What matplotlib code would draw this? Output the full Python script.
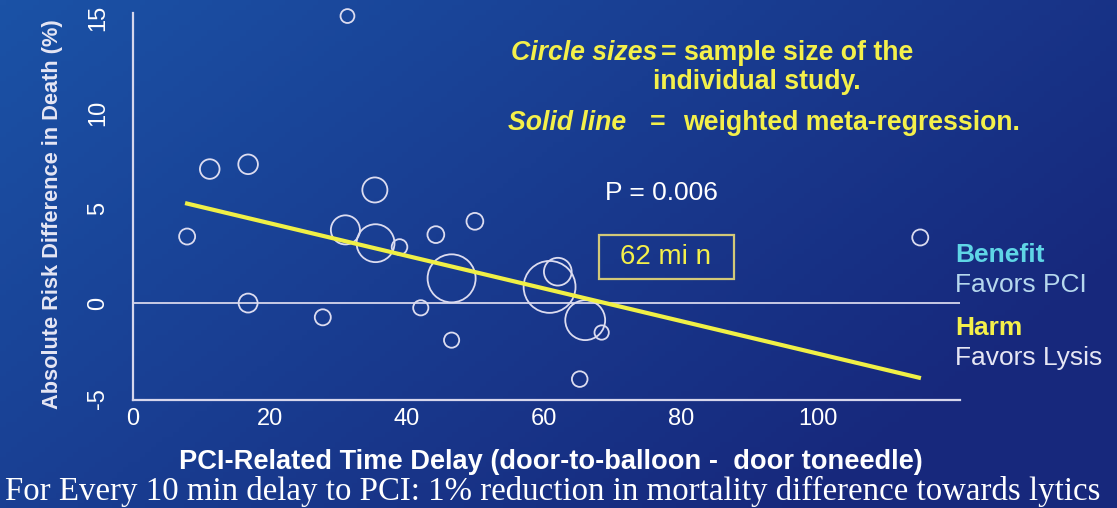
import numpy as np
import matplotlib
matplotlib.use("Agg")
import matplotlib.pyplot as plt
from matplotlib.patches import Rectangle

plt.rcParams["font.family"] = ["Liberation Sans", "DejaVu Sans"]
plt.rcParams["axes.unicode_minus"] = False

# studies: PCI-related delay (min), risk difference (%), relative sample size
delay = [31.3, 11.2, 16.8, 7.9, 35.3, 49.9, 44.2, 31.0, 35.4, 38.9, 46.5,
         60.8, 62.0, 66.0, 68.4, 16.8, 27.7, 42.0, 46.5, 65.2, 114.9]
risk_diff = [15.1, 7.05, 7.3, 3.5, 5.95, 4.3, 3.6, 3.85, 3.15, 2.95, 1.3,
             0.85, 1.65, -0.9, -1.55, 0.0, -0.75, -0.25, -1.95, -4.0, 3.45]
sample_size = [75, 150, 150, 100, 245, 110, 110, 330, 560, 95, 900,
               1050, 300, 620, 80, 140, 100, 90, 90, 95, 100]

# weighted meta-regression line (end points)
fit_x = [7.6, 115.0]
fit_y = [5.26, -3.95]

x_ticks = [0, 20, 40, 60, 80, 100]
y_ticks = [-5, 0, 5, 10, 15]

W, H = 1117, 508
fig = plt.figure(figsize=(W / 100, H / 100), dpi=100)

# background gradient
bg = fig.add_axes([0, 0, 1, 1])
gx, gy = np.meshgrid(np.linspace(0, 1, 200), np.linspace(0, 1, 100))
t = np.clip(0.75 * gx + 0.45 * gy, 0, 1)[..., None]
c_tl = np.array([0x1b, 0x52, 0xa6]) / 255
c_br = np.array([0x17, 0x28, 0x7c]) / 255
img = c_tl * (1 - t) + c_br * t
bg.imshow(img, aspect="auto", extent=[0, 1, 0, 1], origin="upper")
bg.axis("off")

ax = fig.add_axes([133 / W, 1 - 400 / H, (960 - 133) / W, (400 - 13) / H])
ax.set_facecolor("none")
ax.set_xlim(0, 120.7)
ax.set_ylim(-5.1, 15.26)

line_col = "#d6d6ec"
for s in ["top", "right"]:
    ax.spines[s].set_visible(False)
for s in ["left", "bottom"]:
    ax.spines[s].set_color(line_col)
    ax.spines[s].set_linewidth(1.6)

ax.axhline(0, color=line_col, lw=1.3, zorder=1)

sizes = [n * 1.33 for n in sample_size]
ax.scatter(delay, risk_diff, s=sizes, facecolors="none", edgecolors="#dcdcf0",
           linewidths=1.3, zorder=3, clip_on=False)
ax.plot(fit_x, fit_y, color="#f0f046", lw=3, zorder=4, solid_capstyle="butt")

ax.set_xticks(x_ticks)
ax.set_yticks(y_ticks)
ax.tick_params(length=0, colors="white", labelsize=17)
ax.tick_params(axis="x", pad=6)
ax.tick_params(axis="y", pad=17)
for lab in ax.get_yticklabels():
    lab.set_rotation(90)
    lab.set_va("center")
    lab.set_ha("right")

ax.set_ylabel("Absolute Risk Difference in Death (%)", fontsize=15.7,
              fontweight="bold", color="#e6e6f4")
ax.yaxis.set_label_coords(-0.085, 0.48)

fig.text(551 / W, 1 - 462 / H,
         "PCI-Related Time Delay (door-to-balloon -  door toneedle)",
         ha="center", va="center", fontsize=19.6, fontweight="bold", color="white")
fig.text(5 / W, 1 - 491 / H,
         "For Every 10 min delay to PCI: 1% reduction in mortality difference towards lytics",
         ha="left", va="center", fontsize=23.7, family="Liberation Serif", color="white")

yel = "#f4f04a"
fs = 19.2
fig.text(657 / W, 1 - 53 / H, "Circle sizes", ha="right", va="center",
         fontsize=fs, fontweight="bold", style="italic", color=yel)
fig.text(661 / W, 1 - 53 / H, "= sample size of the", ha="left", va="center",
         fontsize=fs, fontweight="bold", color=yel)
fig.text(757 / W, 1 - 82 / H, "individual study.", ha="center", va="center",
         fontsize=fs, fontweight="bold", color=yel)
fig.text(626 / W, 1 - 123 / H, "Solid line", ha="right", va="center",
         fontsize=fs, fontweight="bold", style="italic", color=yel)
fig.text(658 / W, 1 - 123 / H, "=", ha="center", va="center",
         fontsize=fs, fontweight="bold", color=yel)
fig.text(683 / W, 1 - 123 / H, "weighted meta-regression.", ha="left", va="center",
         fontsize=fs, fontweight="bold", color=yel)

fig.text(661 / W, 1 - 193 / H, "P = 0.006", ha="center", va="center",
         fontsize=19, color="white")
fig.text(666 / W, 1 - 257 / H, "62 mi n", ha="center", va="center",
         fontsize=20, color=yel)
fig.patches.append(Rectangle((599 / W, 1 - 279 / H), 135 / W, 44 / H,
                             transform=fig.transFigure, fill=False,
                             edgecolor="#d2c878", linewidth=1.6))

fig.text(955 / W, 1 - 255 / H, "Benefit", ha="left", va="center",
         fontsize=19, fontweight="bold", color="#5fd6e6")
fig.text(955 / W, 1 - 285 / H, "Favors PCI", ha="left", va="center",
         fontsize=19, color="#b6d8ee")
fig.text(955 / W, 1 - 328 / H, "Harm", ha="left", va="center",
         fontsize=19, fontweight="bold", color=yel)
fig.text(955 / W, 1 - 358 / H, "Favors Lysis", ha="left", va="center",
         fontsize=19, color="#e6e6f4")

fig.savefig("out.png", dpi=100)
